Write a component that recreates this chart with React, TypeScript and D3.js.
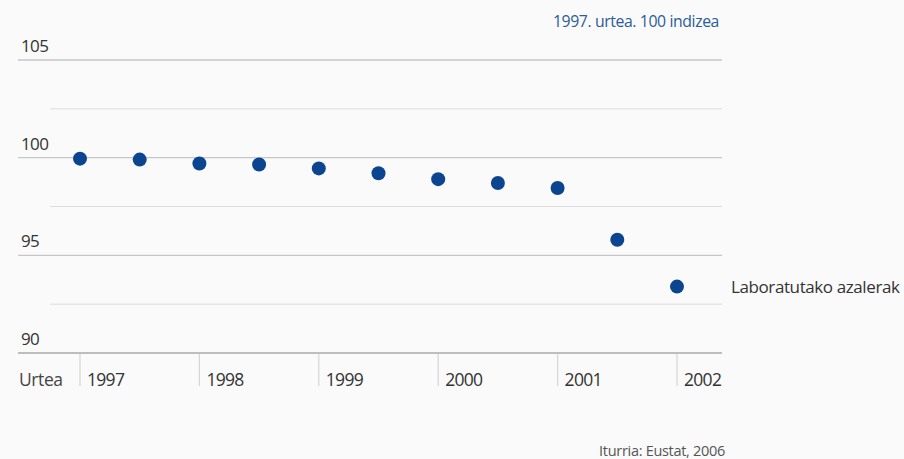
import React from "react";
import * as d3 from "d3";

const periods = [1997, 1997.5, 1998, 1998.5, 1999, 1999.5, 2000, 2000.5, 2001, 2001.5, 2002];
const values = [99.95, 99.9, 99.7, 99.65, 99.45, 99.2, 98.9, 98.7, 98.45, 95.8, 93.4];
const yearTicks = [1997, 1998, 1999, 2000, 2001, 2002];
const majorY = [105, 100, 95, 90];
const minorY = [102.5, 97.5, 92.5];
const seriesName = "Laboratutako azalerak";
const unitLabel = "1997. urtea. 100 indizea";
const sourceLabel = "Iturria: Eustat, 2006";
const axisLabel = "Urtea";

const W = 904;
const H = 459;

export default function App() {
  const x = d3.scaleLinear().domain([1997, 2002]).range([80, 677]);
  const y = d3.scaleLinear().domain([90, 105]).range([353, 60]);
  const font = "'Open Sans', 'DejaVu Sans', sans-serif";
  const blue = "#0b4590";
  const last = values.length - 1;
  return (
    <div style={{ position: "fixed", left: 0, top: 0 }}>
      <svg width={W} height={H} style={{ display: "block", background: "#fafafa" }} fontFamily={font}>
        <text x={719} y={27} textAnchor="end" fontSize={15.8} fill="#2a5c9c" letterSpacing={-0.4}>
          {unitLabel}
        </text>
        {minorY.map((v) => (
          <line key={v} x1={50} x2={722} y1={y(v)} y2={y(v)} stroke="#dddddd" strokeWidth={1} />
        ))}
        {majorY.map((v) => (
          <g key={v}>
            <line x1={18} x2={722} y1={y(v)} y2={y(v)} stroke={v === 90 ? "#bdbdbd" : "#c6c6c6"} strokeWidth={v === 90 ? 2 : 1.3} />
            <text x={21} y={y(v) - 8} fontSize={17} fill="#333" letterSpacing={-0.6}>
              {v}
            </text>
          </g>
        ))}
        <text x={19} y={386} fontSize={17.5} fill="#444" letterSpacing={-0.4}>
          {axisLabel}
        </text>
        {yearTicks.map((t) => (
          <g key={t}>
            <line x1={x(t)} x2={x(t)} y1={354} y2={386} stroke="#d6d6d6" strokeWidth={1.2} />
            <text x={x(t) + 7} y={386} fontSize={17.5} fill="#333" letterSpacing={-0.7}>
              {t}
            </text>
          </g>
        ))}
        {periods.map((p, i) => (
          <circle key={p} cx={x(p)} cy={y(values[i])} r={7} fill={blue} />
        ))}
        <text x={731} y={y(values[last]) + 6} fontSize={17} fill="#333" letterSpacing={-0.4}>
          {seriesName}
        </text>
        <text x={725} y={456} textAnchor="end" fontSize={14.5} fill="#555" letterSpacing={-0.3}>
          {sourceLabel}
        </text>
      </svg>
    </div>
  );
}
